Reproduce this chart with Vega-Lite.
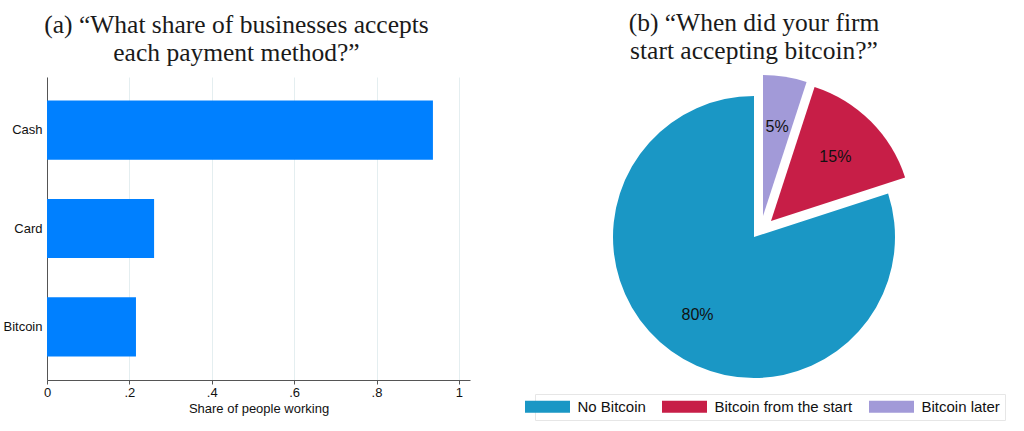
{
  "$schema": "https://vega.github.io/schema/vega-lite/v6.json",
  "background": "white",
  "padding": {"left": 2, "top": 10, "right": 2, "bottom": 2},
  "spacing": 49,
  "config": {
    "view": {"stroke": null},
    "font": "Liberation Sans"
  },
  "hconcat": [
    {
      "width": 423,
      "height": 303,
      "title": {
        "text": ["(a) “What share of businesses accepts", "each payment method?”"],
        "anchor": "middle",
        "frame": "bounds",
        "font": "Liberation Serif",
        "fontSize": 25.5,
        "fontWeight": "normal",
        "lineHeight": 28,
        "offset": 11,
        "color": "#1a1a1a"
      },
      "data": {"values": [
        {"method": "Cash", "share": 0.937},
        {"method": "Card", "share": 0.26},
        {"method": "Bitcoin", "share": 0.216}
      ]},
      "mark": {"type": "bar", "color": "#0080ff"},
      "encoding": {
        "y": {
          "field": "method", "type": "nominal", "sort": ["Cash", "Card", "Bitcoin"],
          "scale": {"paddingInner": 0.4, "paddingOuter": 0.24},
          "axis": {"title": null, "ticks": false, "labelPadding": 5, "labelFontSize": 13, "labelColor": "#111", "domainColor": "#555", "grid": false}
        },
        "x": {
          "field": "share", "type": "quantitative",
          "scale": {"domain": [0, 1.027], "nice": false},
          "axis": {
            "title": "Share of people working",
            "titleFontSize": 13, "titleFontWeight": "normal", "titleColor": "#111", "titlePadding": 3,
            "values": [0, 0.2, 0.4, 0.6, 0.8, 1],
            "labelExpr": "replace(format(datum.value, '~g'), '0.', '.')",
            "labelFontSize": 13, "labelColor": "#111", "labelPadding": 2,
            "tickSize": 4, "tickColor": "#555", "domainColor": "#555",
            "grid": true, "gridColor": "#e4eef0", "labelFlush": false
          }
        }
      }
    },
    {
      "width": 470,
      "height": 320,
      "title": {
        "text": ["(b) “When did your firm", "start accepting bitcoin?”"],
        "anchor": "middle",
        "frame": "bounds",
        "font": "Liberation Serif",
        "fontSize": 25.5,
        "fontWeight": "normal",
        "lineHeight": 28,
        "offset": 11,
        "color": "#1a1a1a"
      },
      "data": {"values": [
        {"status": "No Bitcoin", "share": 80, "label": "80%"},
        {"status": "Bitcoin from the start", "share": 15, "label": "15%"},
        {"status": "Bitcoin later", "share": 5, "label": "5%"}
      ]},
      "encoding": {
        "theta": {"field": "share", "type": "quantitative", "stack": true},
        "order": {"field": "share", "type": "quantitative", "sort": "ascending"},
        "color": {
          "field": "status", "type": "nominal",
          "scale": {"domain": ["No Bitcoin", "Bitcoin from the start", "Bitcoin later"], "range": ["#1a97c5", "#c71e47", "#a29ad8"]},
          "legend": {
            "title": null, "orient": "none", "legendX": 488, "legendY": 317, "direction": "horizontal",
            "symbolType": "M-3.75,-1H3.75V1H-3.75Z", "symbolSize": 144, "symbolStrokeWidth": 0, "symbolOpacity": 1,
            "labelFontSize": 15, "labelFont": "Liberation Sans", "labelColor": "#111", "labelOffset": 22.5,
            "columnPadding": 16, "padding": 5, "strokeColor": "#e6e6e6"
          }
        }
      },
      "layer": [
        {
          "mark": {"type": "arc", "outerRadius": 141},
          "encoding": {"opacity": {"condition": {"test": "datum.status === 'No Bitcoin'", "value": 1}, "value": 0}}
        },
        {
          "mark": {"type": "arc", "outerRadius": 141, "xOffset": 17, "yOffset": -16},
          "encoding": {"opacity": {"condition": {"test": "datum.status === 'Bitcoin from the start'", "value": 1}, "value": 0}}
        },
        {
          "mark": {"type": "arc", "outerRadius": 141, "xOffset": 9, "yOffset": -21},
          "encoding": {"opacity": {"condition": {"test": "datum.status === 'Bitcoin later'", "value": 1}, "value": 0}}
        },
        {
          "mark": {"type": "text", "radius": 96, "fontSize": 16, "color": "#111"},
          "encoding": {
            "text": {"field": "label"},
            "color": {"value": "#111"},
            "opacity": {"condition": {"test": "datum.status === 'No Bitcoin'", "value": 1}, "value": 0}
          }
        },
        {
          "mark": {"type": "text", "radius": 91, "fontSize": 16, "color": "#111", "xOffset": 17, "yOffset": -16},
          "encoding": {
            "text": {"field": "label"},
            "color": {"value": "#111"},
            "opacity": {"condition": {"test": "datum.status === 'Bitcoin from the start'", "value": 1}, "value": 0}
          }
        },
        {
          "mark": {"type": "text", "radius": 90, "fontSize": 16, "color": "#111", "xOffset": 9, "yOffset": -21},
          "encoding": {
            "text": {"field": "label"},
            "color": {"value": "#111"},
            "opacity": {"condition": {"test": "datum.status === 'Bitcoin later'", "value": 1}, "value": 0}
          }
        }
      ]
    }
  ]
}
